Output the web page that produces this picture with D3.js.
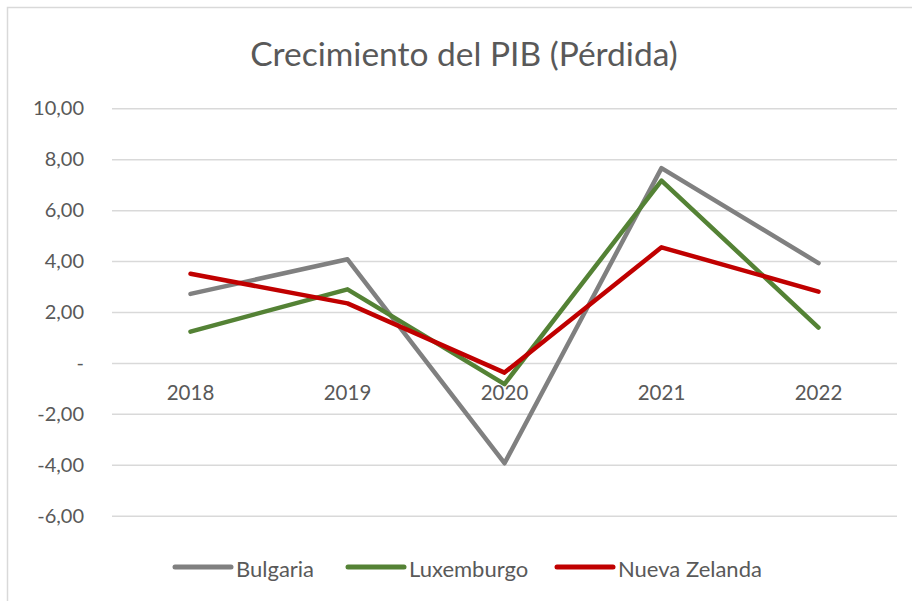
<!DOCTYPE html>
<html>
<head>
<meta charset="utf-8">
<script src="https://cdn.jsdelivr.net/npm/d3@7"></script>
<style>
  body { margin: 0; background: #fff; }
  text { font-family: Lato, "Open Sans", sans-serif; fill: #595959; }
</style>
</head>
<body>
<script>
"use strict";
const years = ["2018", "2019", "2020", "2021", "2022"];
const bulgaria = [2.71, 4.07, -3.94, 7.65, 3.92];
const luxemburgo = [1.23, 2.89, -0.83, 7.16, 1.39];
const nuevaZelanda = [3.50, 2.34, -0.38, 4.54, 2.80];
const yTicks = [-6, -4, -2, 0, 2, 4, 6, 8, 10];
const seriesNames = ["Bulgaria", "Luxemburgo", "Nueva Zelanda"];
const seriesColors = ["#808080", "#548235", "#c00000"];

const measurements = { width: 912, height: 601, left: 112, right: 897, top: 108.3, bottom: 515.7 };

(function(){
    const svg = d3.select("body").append("svg")
        .attr("width", measurements.width)
        .attr("height", measurements.height);

    // chart frame (right and bottom edges fall outside the picture)
    svg.append("rect")
        .attr("x", 7.5).attr("y", 7.5)
        .attr("width", 920).attr("height", 610)
        .attr("fill", "#fff").attr("stroke", "#d9d9d9").attr("stroke-width", 1.5);

    svg.append("text")
        .attr("x", 464).attr("y", 66)
        .attr("text-anchor", "middle")
        .style("font-size", "33.5px")
        .text("Crecimiento del PIB (Pérdida)");

    const x = d3.scaleBand()
        .domain(years)
        .range([measurements.left, measurements.right]);

    const y = d3.scaleLinear()
        .domain([-6, 10])
        .range([measurements.bottom, measurements.top]);

    const fmt = d => d === 0 ? "-" : d3.format(".2f")(Math.abs(d)).replace(".", ",").replace(/^/, d < 0 ? "-" : "");

    const yAxis = d3.axisLeft(y)
        .tickValues(yTicks)
        .tickSize(-(measurements.right - measurements.left))
        .tickPadding(28)
        .tickFormat(fmt);

    const gy = svg.append("g")
        .attr("transform", `translate(${measurements.left},0)`)
        .call(yAxis);
    gy.select(".domain").remove();
    gy.selectAll(".tick line").attr("stroke", "#d9d9d9").attr("stroke-width", 1.5);
    gy.selectAll(".tick text").style("font-size", "20px").attr("fill", "#595959")
        .style("font-family", "Lato, sans-serif");

    const xAxis = d3.axisBottom(x).tickSize(0).tickPadding(23);
    const gx = svg.append("g")
        .attr("transform", `translate(0,${y(0)})`)
        .call(xAxis);
    gx.select(".domain").remove();
    gx.selectAll(".tick text").style("font-size", "20.5px").attr("fill", "#595959")
        .style("font-family", "Lato, sans-serif");

    const line = d3.line()
        .x((d, i) => x(years[i]) + x.bandwidth() / 2)
        .y(d => y(d));

    [bulgaria, luxemburgo, nuevaZelanda].forEach((vals, i) => {
        svg.append("path")
            .datum(vals)
            .attr("d", line)
            .attr("fill", "none")
            .attr("stroke", seriesColors[i])
            .attr("stroke-width", 4.5)
            .attr("stroke-linecap", "round")
            .attr("stroke-linejoin", "round");
    });

    // legend
    const legendX = [175, 348, 557];
    const legend = svg.append("g");
    seriesNames.forEach((name, i) => {
        legend.append("line")
            .attr("x1", legendX[i]).attr("x2", legendX[i] + 56)
            .attr("y1", 567).attr("y2", 567)
            .attr("stroke", seriesColors[i]).attr("stroke-width", 5)
            .attr("stroke-linecap", "round");
        legend.append("text")
            .attr("x", legendX[i] + 61).attr("y", 576.5)
            .style("font-size", "22px")
            .text(name);
    });
})();
</script>
</body>
</html>
